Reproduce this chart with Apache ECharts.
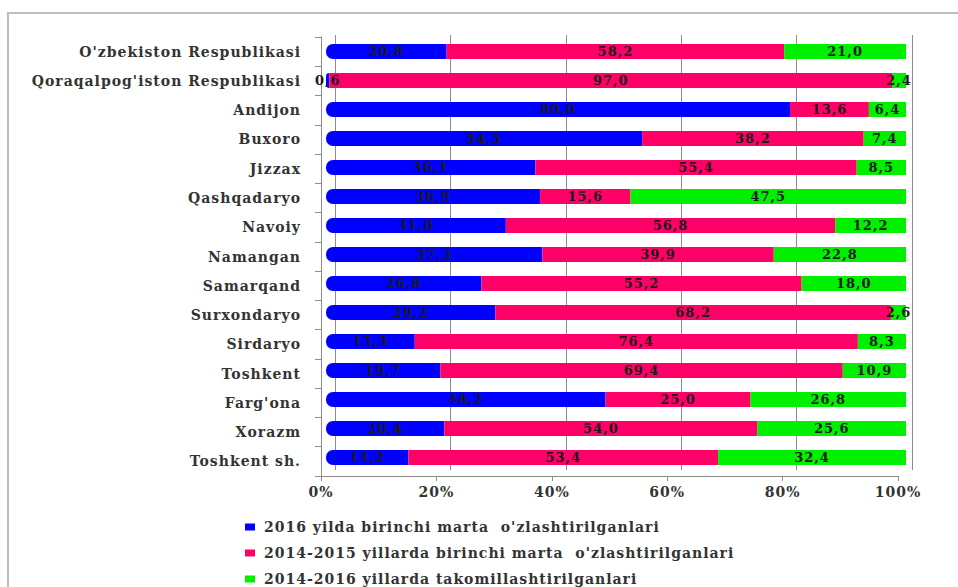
<!DOCTYPE html>
<html>
<head>
<meta charset="utf-8">
<script src="https://cdn.jsdelivr.net/npm/echarts@6/dist/echarts.min.js"></script>
<style>
  html, body { margin: 0; padding: 0; background: #fff; }
  #chart { width: 958px; height: 587px; }
  /* wide letter spacing like the original document */
  #chart svg text { letter-spacing: 1px; }
</style>
</head>
<body>
<div id="chart"></div>
<script>
const categories = [
  "O'zbekiston Respublikasi", "Qoraqalpog'iston Respublikasi", 'Andijon', 'Buxoro', 'Jizzax',
  'Qashqadaryo', 'Navoiy', 'Namangan', 'Samarqand', 'Surxondaryo',
  'Sirdaryo', 'Toshkent', "Farg'ona", 'Xorazm', 'Toshkent sh.'
]
const first2016 = [20.8, 0.6, 80.0, 54.5, 36.1, 36.9, 31.0, 37.3, 26.8, 29.2, 15.3, 19.7, 48.2, 20.4, 14.2]
const first2014_2015 = [58.2, 97.0, 13.6, 38.2, 55.4, 15.6, 56.8, 39.9, 55.2, 68.2, 76.4, 69.4, 25.0, 54.0, 53.4]
const improved2014_2016 = [21.0, 2.4, 6.4, 7.4, 8.5, 47.5, 12.2, 22.8, 18.0, 2.6, 8.3, 10.9, 26.8, 25.6, 32.4]
const seriesNames = [
  "2016 yilda birinchi marta  o'zlashtirilganlari",
  "2014-2015 yillarda birinchi marta  o'zlashtirilganlari",
  "2014-2016 yillarda takomillashtirilganlari"
]
const colors = ['#0000ff', '#ff0066', '#00f000']
const xTicks = [0, 20, 40, 60, 80, 100]

const font = 'DejaVu Serif'
const chart = echarts.init(document.getElementById('chart'), null, { renderer: 'svg' })

// данные -> серии
const makeSeries = (name, data, color, radius) => ({
  name,
  type: 'bar',
  stack: 'total',
  xAxisIndex: 0,
  yAxisIndex: 0,
  data,
  barWidth: 15,
  itemStyle: { color, borderRadius: radius },
  label: {
    show: true,
    position: 'inside',
    color: '#1a1a1a',
    fontFamily: font,
    fontSize: 13,
    fontWeight: 'bold',
    formatter: p => p.value.toFixed(1).replace('.', ',')
  }
})

const option = {
  animation: false,
  color: colors,
  grid: [
    // bars
    { left: 326, right: 52, top: 37, bottom: 115 },
    // back wall gridlines
    { left: 335, right: 46, top: 35, bottom: 117 },
    // front axes
    { left: 321, right: 60, top: 37, bottom: 111 }
  ],
  legend: {
    orient: 'vertical',
    left: 240,
    top: 515,
    height: 100,
    itemWidth: 10,
    itemHeight: 7,
    itemGap: 12,
    icon: 'rect',
    textStyle: { fontFamily: font, fontSize: 14, fontWeight: 'bold', color: '#333', padding: [0, 0, 0, 4] },
    data: seriesNames
  },
  xAxis: [
    { gridIndex: 0, type: 'value', min: 0, max: 100, show: false },
    {
      gridIndex: 1, type: 'value', min: 0, max: 100, interval: 20,
      axisLine: { show: false }, axisTick: { show: false }, axisLabel: { show: false },
      splitLine: { show: true, lineStyle: { color: '#8c8c8c', width: 1 } }
    },
    {
      gridIndex: 2, type: 'value', min: 0, max: 100, interval: 20,
      axisLine: { show: true, lineStyle: { color: '#8c8c8c' } },
      axisTick: { show: true, length: 5, lineStyle: { color: '#8c8c8c' } },
      splitLine: { show: false },
      axisLabel: {
        color: '#333', fontFamily: font, fontSize: 14, fontWeight: 'bold', margin: 9,
        customValues: xTicks,
        formatter: '{value}%'
      }
    }
  ],
  yAxis: [
    { gridIndex: 0, type: 'category', inverse: true, data: categories, show: false },
    { gridIndex: 1, type: 'category', inverse: true, data: categories, show: false },
    {
      gridIndex: 2, type: 'category', inverse: true, data: categories,
      axisLine: { show: true, lineStyle: { color: '#8c8c8c' } },
      axisTick: { show: true, length: 6, lineStyle: { color: '#8c8c8c' } },
      axisLabel: { color: '#333', fontFamily: font, fontSize: 14, fontWeight: 'bold', margin: 20 }
    }
  ],
  graphic: [
    {
      type: 'polyline',
      shape: { points: [[8, 600], [8, 13], [960, 13]] },
      style: { stroke: '#bdbdbd', lineWidth: 2, fill: null },
      silent: true
    }
  ],
  series: [
    makeSeries(seriesNames[0], first2016, colors[0], [7, 0, 0, 7]),
    makeSeries(seriesNames[1], first2014_2015, colors[1], 0),
    makeSeries(seriesNames[2], improved2014_2016, colors[2], 0)
  ]
}

chart.setOption(option)
</script>
</body>
</html>
